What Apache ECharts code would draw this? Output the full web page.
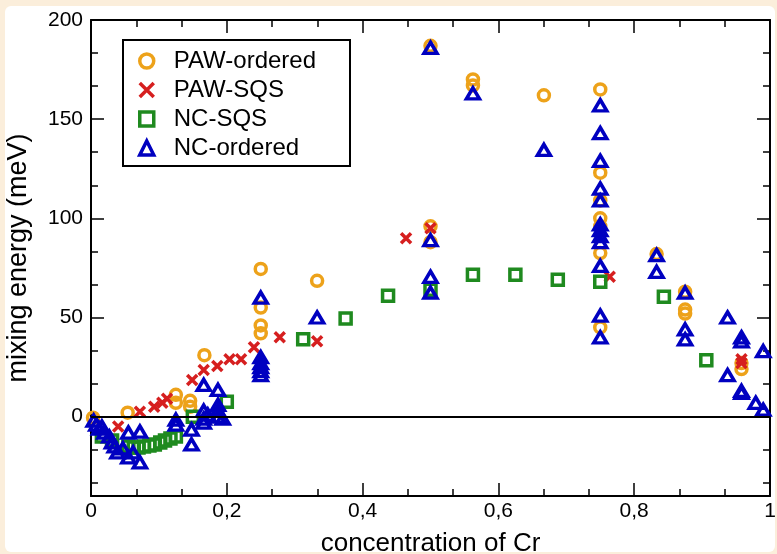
<!DOCTYPE html>
<html>
<head>
<meta charset="utf-8">
<script src="https://cdn.jsdelivr.net/npm/echarts@6/dist/echarts.min.js"></script>
<style>
html,body{margin:0;padding:0;background:#fbeedb;}
#chart{width:777px;height:554px;}
</style>
</head>
<body>
<div id="chart"></div>
<script>
// ---- data (concentration of Cr, mixing energy in meV) ----
const seriesNames = ['PAW-ordered', 'PAW-SQS', 'NC-SQS', 'NC-ordered'];
const pawOrdered = [[0.003,-0.5],[0.054,2],[0.125,11],[0.125,7],[0.146,8],[0.146,5],[0.167,31],
  [0.25,74.5],[0.25,55],[0.25,46],[0.25,42],[0.333,68.5],[0.5,187],[0.5,96],[0.5,88],
  [0.5625,170],[0.5625,167],[0.667,162],[0.75,165],[0.75,123],[0.75,109],[0.75,100],[0.75,96],
  [0.75,82.5],[0.75,45],[0.833,82],[0.875,63],[0.875,54],[0.875,52],[0.958,24],[0.958,27]];
const pawSqs = [[0.04,-5],[0.072,2.5],[0.093,5],[0.105,7],[0.112,9],[0.149,18.5],[0.166,23.5],
  [0.186,25.5],[0.204,29],[0.221,29],[0.24,35],[0.278,40],[0.333,38],[0.464,90],[0.5,95],
  [0.764,70.5],[0.958,29],[0.958,27]];
const ncSqs = [[0.016,-10],[0.031,-12],[0.055,-15],[0.063,-15.5],[0.07,-15.5],[0.078,-15],
  [0.086,-14.5],[0.094,-14],[0.102,-13],[0.109,-12],[0.117,-11],[0.125,-10],[0.15,0],[0.2,7.5],
  [0.3125,39],[0.375,49.5],[0.4375,61],[0.5,64],[0.5625,71.5],[0.625,71.5],[0.6875,69],
  [0.75,68],[0.8437,60.5],[0.9062,28.5]];
const ncOrdered = [[0.004,-2],[0.008,-4],[0.012,-6],[0.016,-5],[0.02,-8],[0.027,-10],[0.031,-13],
  [0.035,-15],[0.039,-18],[0.047,-16],[0.055,-8],[0.055,-20.5],[0.062,-18],[0.072,-7.5],[0.072,-23],
  [0.125,-1.5],[0.125,-4],[0.148,-6.5],[0.148,-14],[0.166,16],[0.166,3],[0.166,-1],[0.166,-3],
  [0.172,1],[0.187,13.5],[0.187,6],[0.187,3],[0.187,0],[0.194,-1],[0.25,60],[0.25,30],[0.25,27],
  [0.25,25],[0.25,23],[0.25,21],[0.333,50],[0.5,186],[0.5,89],[0.5,70.5],[0.5,62.5],[0.5625,163],
  [0.667,134.5],[0.75,157],[0.75,143],[0.75,129],[0.75,115],[0.75,109],[0.75,97],[0.75,94],
  [0.75,91],[0.75,88],[0.75,76],[0.75,51],[0.75,40],[0.833,81.5],[0.833,73],[0.875,62.5],
  [0.875,44],[0.875,39],[0.9375,50],[0.9375,21],[0.958,40],[0.958,38],[0.958,13],[0.958,12],
  [0.979,7],[0.99,3.5],[0.99,33]];
const yMajorTicks = [0, 50, 100, 150, 200];
const yMinorTicks = [-33.33, -16.67, 16.67, 33.33, 66.67, 83.33, 116.67, 133.33, 166.67, 183.33];

const FONT = 'Liberation Sans';
const colors = ['#eda21a', '#d61f1f', '#1f8a1f', '#0000c0'];
const crossPath = 'path://M0,0L10,10M10,0L0,10';

function yAx(pos, vals, len, showLine, showLabel) {
  return {
    type: 'value', position: pos, min: -40, max: 200,
    axisLine: {show: showLine, onZero: false, lineStyle: {color: '#000', width: 2}},
    axisTick: {show: true, inside: true, length: len, customValues: vals, lineStyle: {color: '#000', width: 1.5}},
    axisLabel: {show: showLabel, customValues: vals, color: '#000', fontFamily: FONT, fontSize: 21, margin: 8},
    splitLine: {show: false}
  };
}
function xAx(pos, showLabel) {
  return {
    type: 'value', position: pos, min: 0, max: 1, interval: 0.2,
    axisLine: {show: true, onZero: false, lineStyle: {color: '#000', width: 2}},
    axisTick: {show: true, inside: true, length: 13, lineStyle: {color: '#000', width: 1.5}},
    minorTick: {show: true, splitNumber: 3, length: 7, lineStyle: {color: '#000', width: 1.5}},
    axisLabel: {show: showLabel, color: '#000', fontFamily: FONT, fontSize: 21, margin: 5,
      formatter: v => String(v).replace('.', ',')},
    splitLine: {show: false}
  };
}

const chart = echarts.init(document.getElementById('chart'), null, {renderer: 'canvas'});
const xMain = xAx('bottom', true);
xMain.name = 'concentration of Cr';
xMain.nameLocation = 'middle';
xMain.nameGap = 35;
xMain.nameTextStyle = {color: '#000', fontFamily: FONT, fontSize: 26};
const yMain = yAx('left', yMajorTicks, 13, true, true);
yMain.name = 'mixing energy (meV)';
yMain.nameLocation = 'middle';
yMain.nameGap = 59;
yMain.nameTextStyle = {color: '#000', fontFamily: FONT, fontSize: 27};

function sc(name, data, symbol, size, idx) {
  return {
    name: name, type: 'scatter', data: data, symbol: symbol, symbolSize: size,
    xAxisIndex: 0, yAxisIndex: 0,
    itemStyle: {color: 'rgba(255,255,255,0)', borderColor: colors[idx], borderWidth: 3.5, opacity: 1},
    emphasis: {disabled: true}
  };
}
const series = [
  sc(seriesNames[0], pawOrdered, 'circle', 11, 0),
  sc(seriesNames[1], pawSqs, crossPath, 10, 1),
  sc(seriesNames[2], ncSqs, 'rect', 11, 2),
  sc(seriesNames[3], ncOrdered, 'triangle', [13, 11], 3)
];
series[0].markLine = {silent: true, symbol: 'none', label: {show: false},
  lineStyle: {color: '#000', width: 2, type: 'solid'}, data: [{yAxis: 0}], animation: false};

chart.setOption({
  animation: false,
  backgroundColor: '#fbeedb',
  graphic: [
    {type: 'rect', shape: {x: 5, y: 6, width: 770, height: 546, r: 6}, style: {fill: '#ffffff'}, z: -10},
    {type: 'rect', shape: {x: 123, y: 40, width: 227, height: 126}, style: {fill: '#fff', stroke: '#000', lineWidth: 2}, z: 5}
  ],
  grid: {left: 91, right: 7, top: 20, bottom: 58, containLabel: false, outerBoundsMode: 'none'},
  xAxis: [xMain, xAx('top', false)],
  yAxis: [yMain, yAx('right', yMajorTicks, 13, true, false),
          yAx('left', yMinorTicks, 7, false, false), yAx('right', yMinorTicks, 7, false, false)],
  legend: {
    show: true, orient: 'vertical', left: 138, top: 49, padding: 0, itemGap: 5,
    itemWidth: 14, itemHeight: 14, z: 10,
    data: seriesNames,
    itemStyle: {borderWidth: 3.5},
    textStyle: {color: '#000', fontFamily: FONT, fontSize: 24, lineHeight: 20, padding: [0,0,0,15]}
  },
  series: series
});
</script>
</body>
</html>
